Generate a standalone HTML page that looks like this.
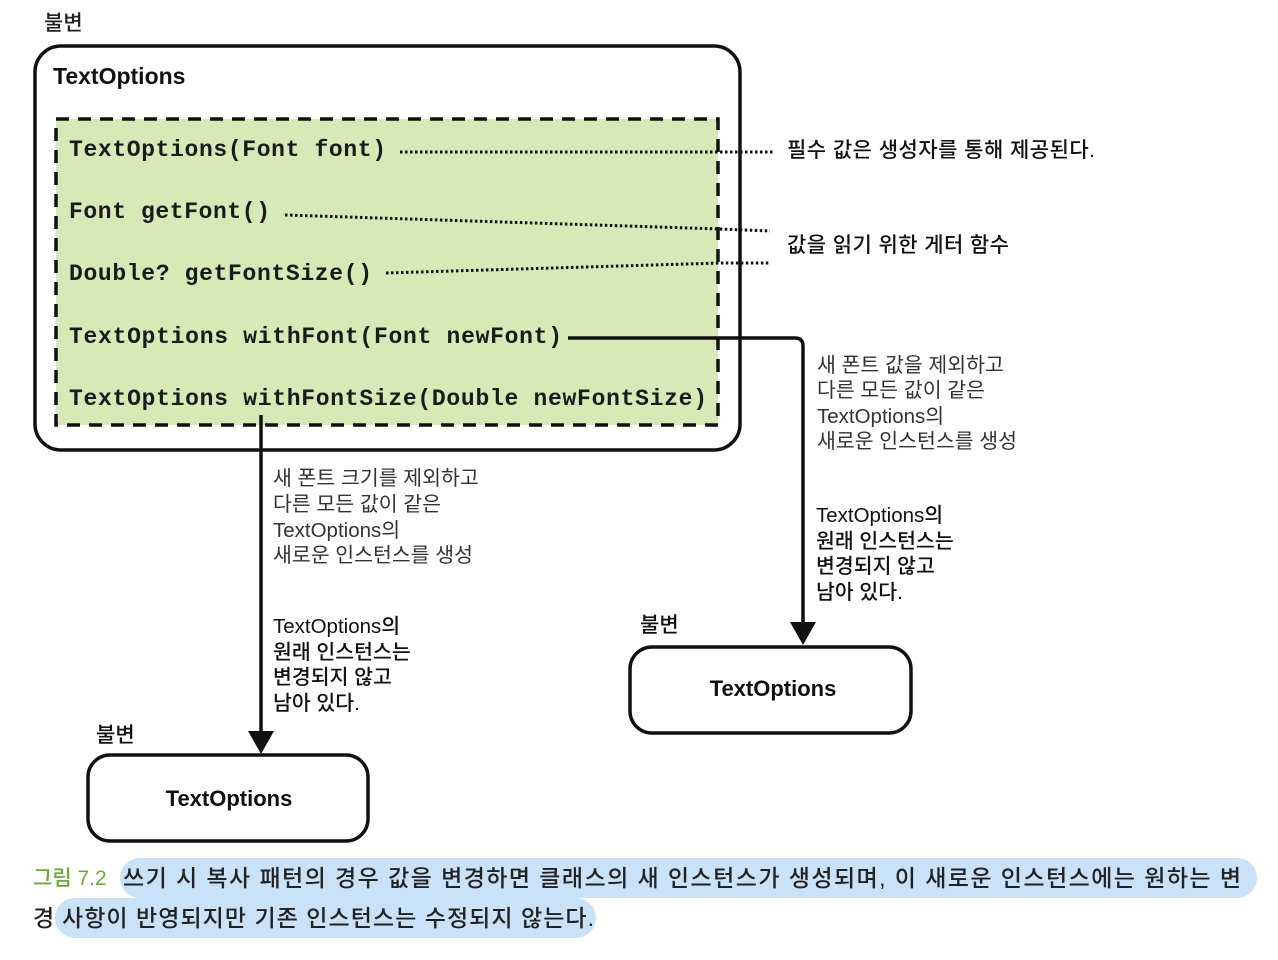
<!DOCTYPE html>
<html><head><meta charset="utf-8"><style>
html,body{margin:0;padding:0;background:#fff;}
svg{display:block;}
.k{font-family:"Liberation Sans","Noto Sans CJK KR",sans-serif;fill:#222;}
.m{font-family:"Liberation Mono",monospace;font-weight:bold;font-size:23px;fill:#1a1a1a;}
</style></head><body>
<svg width="1278" height="960" viewBox="0 0 1278 960" xmlns="http://www.w3.org/2000/svg">
<rect x="35" y="46" width="705" height="404" rx="26" fill="#fff" stroke="#111" stroke-width="3.5"/>
<rect x="56" y="119" width="662" height="306" fill="#d7e9b6"/>
<rect x="56" y="119" width="662" height="306" fill="none" stroke="#111" stroke-width="3.5" stroke-dasharray="13,9"/>
<text x="53" y="84" class="k" style="font-weight:bold;font-size:23px;fill:#111">TextOptions</text>
<text x="44" y="30" class="k" style="font-size:21px;font-weight:500">불변</text>

<text x="69" y="156" class="m" textLength="317">TextOptions(Font font)</text>
<text x="69" y="218" class="m" textLength="201">Font getFont()</text>
<text x="69" y="280" class="m" textLength="303">Double? getFontSize()</text>
<text x="69" y="343" class="m" textLength="493">TextOptions withFont(Font newFont)</text>
<text x="69" y="405" class="m" textLength="638">TextOptions withFontSize(Double newFontSize)</text>

<g stroke="#111" stroke-width="3" stroke-dasharray="2.5,2.5" fill="none">
<line x1="400" y1="152" x2="775" y2="152"/>
<polyline points="285,215 720,229 770,231"/>
<polyline points="386,273 720,263 770,263"/>
</g>
<text x="787" y="157" class="k" style="font-size:21px;font-weight:500;fill:#111" textLength="308">필수 값은 생성자를 통해 제공된다.</text>
<text x="787" y="252" class="k" style="font-size:21px;font-weight:500;fill:#111" textLength="222">값을 읽기 위한 게터 함수</text>

<path d="M568,338 H795 Q803,338 803,346 V625" fill="none" stroke="#111" stroke-width="3.5"/>
<polygon points="790,622 816,622 803,645" fill="#111"/>
<line x1="261" y1="415" x2="261" y2="733" stroke="#111" stroke-width="3.5"/>
<polygon points="248,731 274,731 261,754" fill="#111"/>

<g class="k" style="font-size:20.5px;fill:#333">
<text x="817" y="372">새 폰트 값을 제외하고</text>
<text x="817" y="397">다른 모든 값이 같은</text>
<text x="817" y="423">TextOptions의</text>
<text x="817" y="448">새로운 인스턴스를 생성</text>
<text x="273" y="485">새 폰트 크기를 제외하고</text>
<text x="273" y="511">다른 모든 값이 같은</text>
<text x="273" y="537">TextOptions의</text>
<text x="273" y="562">새로운 인스턴스를 생성</text>
</g>
<g class="k" style="font-size:20.5px;fill:#111;font-weight:500">
<text x="816" y="522">TextOptions의</text>
<text x="816" y="548">원래 인스턴스는</text>
<text x="816" y="573">변경되지 않고</text>
<text x="816" y="599">남아 있다.</text>
<text x="273" y="633">TextOptions의</text>
<text x="273" y="659">원래 인스턴스는</text>
<text x="273" y="684">변경되지 않고</text>
<text x="273" y="710">남아 있다.</text>
<text x="640" y="632" style="font-size:21px">불변</text>
<text x="96" y="742" style="font-size:21px">불변</text>
</g>

<rect x="630" y="647" width="281" height="86" rx="22" fill="#fff" stroke="#111" stroke-width="3.5"/>
<text x="773" y="696" text-anchor="middle" class="k" style="font-weight:bold;font-size:22px;fill:#111">TextOptions</text>
<rect x="88" y="755" width="280" height="86" rx="22" fill="#fff" stroke="#111" stroke-width="3.5"/>
<text x="229" y="806" text-anchor="middle" class="k" style="font-weight:bold;font-size:22px;fill:#111">TextOptions</text>

<rect x="120" y="858" width="1137" height="40" rx="20" fill="#c9e2f8"/>
<rect x="55" y="898" width="541" height="40" rx="20" fill="#c9e2f8"/>
<text x="33" y="885" class="k" style="font-size:21px;fill:#6aa83a;font-weight:500">그림 7.2</text>
<text x="123" y="886" class="k" style="font-size:23px;fill:#222;font-weight:500" textLength="1118">쓰기 시 복사 패턴의 경우 값을 변경하면 클래스의 새 인스턴스가 생성되며, 이 새로운 인스턴스에는 원하는 변</text>
<text x="33" y="926" class="k" style="font-size:23px;fill:#222;font-weight:500">경</text>
<text x="62" y="926" class="k" style="font-size:23px;fill:#222;font-weight:500" textLength="532">사항이 반영되지만 기존 인스턴스는 수정되지 않는다.</text>
</svg>
</body></html>
